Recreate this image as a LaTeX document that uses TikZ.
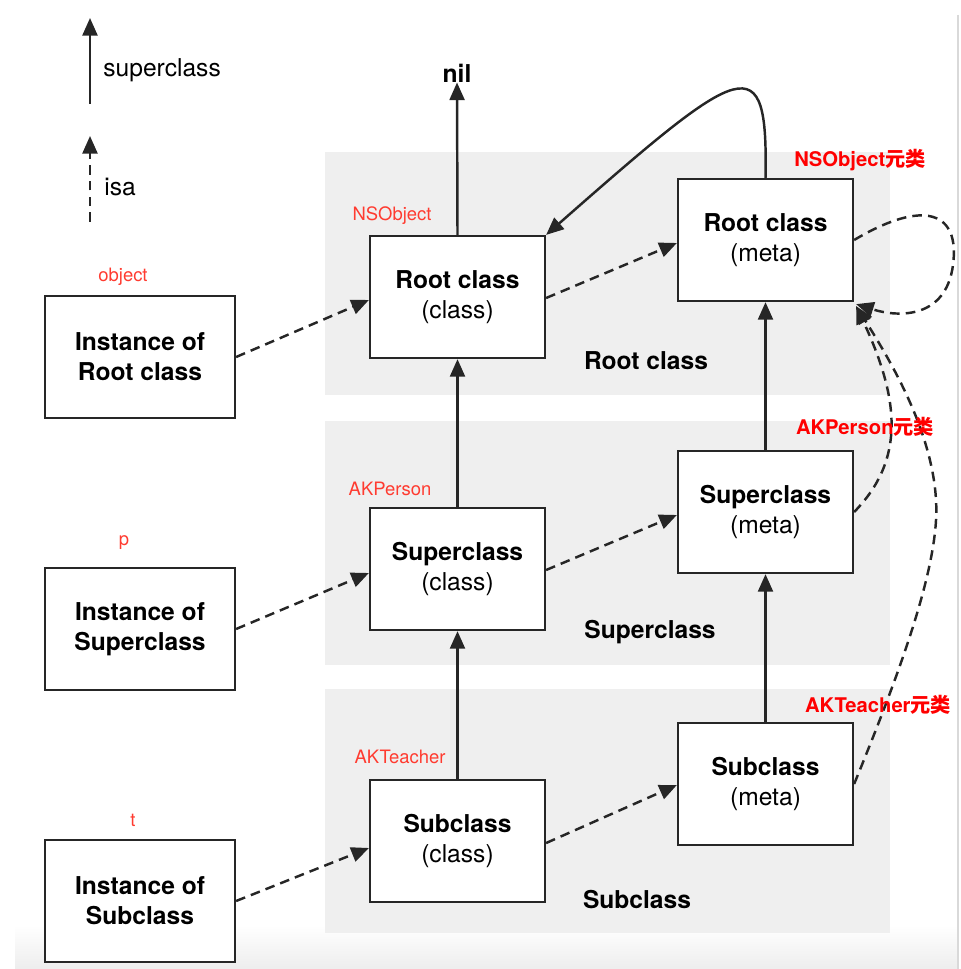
\documentclass[tikz,border=0pt]{standalone}
\usepackage{fontspec}
\setmainfont{TeX Gyre Heros}
\newfontfamily\cjk{Noto Sans CJK SC}
\usetikzlibrary{arrows.meta,calc}
\definecolor{panel}{RGB}{239,239,239}
\definecolor{lbl}{RGB}{255,59,48}
\definecolor{metared}{RGB}{255,0,0}
\begin{document}
\begin{tikzpicture}[x=0.02cm,y=-0.02cm,
  box/.style={draw=black!85,line width=1.3pt,fill=white,minimum width=3.5cm,minimum height=2.44cm,align=center,inner sep=0pt,font=\fontsize{14}{17}\selectfont},
  inst/.style={box,minimum width=3.8cm,font=\fontsize{14}{17}\selectfont\bfseries},
  panelbox/.style={fill=panel,draw=none},
  supline/.style={draw=black!85,line width=1.4pt,-{Triangle[length=10pt,width=8.5pt]}},
  isaline/.style={supline,dash pattern=on 5.5pt off 3.5pt},
  redlbl/.style={text=lbl,font=\fontsize{10.5}{12}\selectfont,inner sep=0pt},
  metalbl/.style={text=metared,font=\fontsize{11.5}{13}\selectfont\bfseries,inner sep=0pt},
  paneltitle/.style={font=\fontsize{14}{17}\selectfont\bfseries,inner sep=0pt},
  legtext/.style={font=\fontsize{14}{17}\selectfont,inner sep=0pt,anchor=west}
]
\useasboundingbox (0,0) rectangle (960,969);
% screenshot frame details
\fill[top color=white,bottom color=black!7] (15,925) rectangle (958,969);
\draw[black!15,line width=0.8pt] (958,15) -- (958,969);
% panels
\fill[panelbox] (325,152) rectangle (890,395);
\fill[panelbox] (325,421) rectangle (890,665);
\fill[panelbox] (325,689) rectangle (890,933);
\node[paneltitle] (ptRoot) at (646,361) {Root class};
\node[paneltitle] (ptSuper) at (650,632) {Superclass};
\node[paneltitle] (ptSub) at (637,900) {Subclass};
% legend
\coordinate (l1a) at (90,104);
\coordinate (l1b) at (90,18);
\coordinate (l2a) at (90,222);
\coordinate (l2b) at (90,136);
\draw[supline] (l1a) -- (l1b);
\draw[isaline] (l2a) -- (l2b);
\node[legtext] (legsup) at (103,70) {superclass};
\node[legtext] (legisa) at (104,187) {isa};
% nil
\node[font=\fontsize{14}{17}\selectfont\bfseries,inner sep=0pt] (nil) at (457,73) {nil};
% boxes
\node[inst] (instRoot) at (140,357) {Instance of\\Root class};
\node[inst] (instSuper) at (140,629) {Instance of\\Superclass};
\node[inst] (instSub) at (140,901) {Instance of\\Subclass};
\node[box] (rootC) at (457.5,297) {\textbf{Root class}\\(class)};
\node[box] (superC) at (457.5,569) {\textbf{Superclass}\\(class)};
\node[box] (subC) at (457.5,841) {\textbf{Subclass}\\(class)};
\node[box] (rootM) at (765.5,240) {\textbf{Root class}\\(meta)};
\node[box] (superM) at (765.5,512) {\textbf{Superclass}\\(meta)};
\node[box] (subM) at (765.5,784) {\textbf{Subclass}\\(meta)};
% red labels
\node[redlbl] (lobj) at (123,277) {object};
\node[redlbl] (lp) at (124,543) {p};
\node[redlbl] (lt) at (133,820) {t};
\node[redlbl] (lns) at (392,216) {NSObject};
\node[redlbl] (lak) at (390,489) {AKPerson};
\node[redlbl] (lat) at (400,757) {AKTeacher};
% superclass arrows
\draw[supline] (rootC.north) -- (nil.south);
\draw[supline] (superC.north) -- (rootC.south);
\draw[supline] (subC.north) -- (superC.south);
\draw[supline] (superM.north) -- (rootM.south);
\draw[supline] (subM.north) -- (superM.south);
\draw[supline] (rootM.north) .. controls (768,45) and (745,60) .. (rootC.north east);
% isa arrows
\draw[isaline] (instRoot.east) -- ($(rootC.west)+(0,3)$);
\draw[isaline] (instSuper.east) -- ($(superC.west)+(0,4)$);
\draw[isaline] (instSub.east) -- ($(subC.west)+(0,7)$);
\draw[isaline] ($(rootC.east)+(0,1)$) -- ($(rootM.west)+(0,3)$);
\draw[isaline] ($(superC.east)+(0,1)$) -- ($(superM.west)+(0,3)$);
\draw[isaline] ($(subC.east)+(0,2)$) -- ($(subM.west)+(0,1)$);
\draw[isaline] (rootM.east) .. controls (925,198) and (960,212) .. (953,265) .. controls (946,318) and (900,318) .. ($(rootM.south east)+(2,2)$);
\draw[isaline] (superM.east) .. controls (905,460) and (900,400) .. ($(rootM.south east)+(2,4)$);
\draw[isaline] (subM.east) .. controls (905,660) and (940,560) .. (936,500) .. controls (932,430) and (890,360) .. ($(rootM.south east)+(2,4)$);
% metaclass labels on top
\node[metalbl] (mns) at (860,160) {NSObject{\cjk\bfseries 元类}};
\node[metalbl] (mak) at (865,427) {AKPerson{\cjk\bfseries 元类}};
\node[metalbl] (mat) at (878,705) {AKTeacher{\cjk\bfseries 元类}};
\end{tikzpicture}
\end{document}
